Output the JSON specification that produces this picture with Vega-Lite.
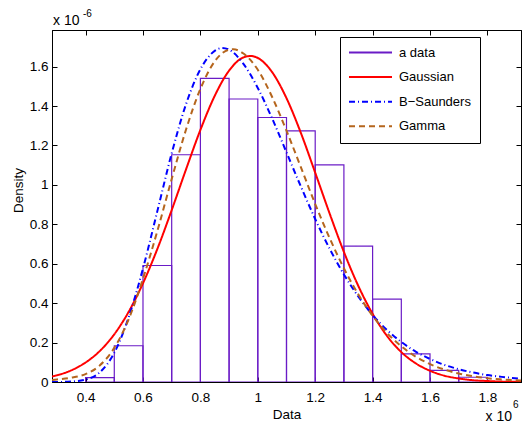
{
  "$schema": "https://vega.github.io/schema/vega-lite/v6.json",
  "width": 469,
  "height": 352,
  "autosize": {"type": "none"},
  "padding": {"left": 52, "top": 30, "right": 2, "bottom": 43},
  "background": "white",
  "config": {
    "font": "Liberation Sans",
    "view": {"stroke": "black", "strokeWidth": 1},
    "axis": {
      "domainColor": "black", "tickColor": "black", "labelColor": "black", "titleColor": "black",
      "grid": false, "tickSize": -5, "labelFontSize": 13.5, "titleFontSize": 13.5,
      "titleFontWeight": "normal", "labelFont": "Liberation Sans", "titleFont": "Liberation Sans",
      "labelFlush": false, "labelOverlap": false
    },
    "legend": {
      "orient": "none", "legendX": 288, "legendY": 7,
      "strokeColor": "black", "fillColor": "white", "padding": 9, "cornerRadius": 0,
      "symbolType": "M-4.3,0H4.3", "symbolSize": 100, "symbolStrokeWidth": 2,
      "symbolOffset": 15, "labelOffset": 22, "rowPadding": 10.6,
      "labelFont": "Liberation Sans", "labelFontSize": 13, "labelColor": "black"
    }
  },
  "datasets": {
    "hist": [
      {"bin_start": 0.4, "bin_end": 0.5, "density": 0.022, "series": "a data"},
      {"bin_start": 0.5, "bin_end": 0.6, "density": 0.184, "series": "a data"},
      {"bin_start": 0.6, "bin_end": 0.7, "density": 0.591, "series": "a data"},
      {"bin_start": 0.7, "bin_end": 0.8, "density": 1.153, "series": "a data"},
      {"bin_start": 0.8, "bin_end": 0.9, "density": 1.541, "series": "a data"},
      {"bin_start": 0.9, "bin_end": 1.0, "density": 1.436, "series": "a data"},
      {"bin_start": 1.0, "bin_end": 1.1, "density": 1.342, "series": "a data"},
      {"bin_start": 1.1, "bin_end": 1.2, "density": 1.274, "series": "a data"},
      {"bin_start": 1.2, "bin_end": 1.3, "density": 1.102, "series": "a data"},
      {"bin_start": 1.3, "bin_end": 1.4, "density": 0.689, "series": "a data"},
      {"bin_start": 1.4, "bin_end": 1.5, "density": 0.42, "series": "a data"},
      {"bin_start": 1.5, "bin_end": 1.6, "density": 0.143, "series": "a data"},
      {"bin_start": 1.6, "bin_end": 1.7, "density": 0.059, "series": "a data"},
      {"bin_start": 1.7, "bin_end": 1.8, "density": 0.024, "series": "a data"}
    ],
    "fits": [
      {"x": 0.283, "density": 0.028, "series": "Gaussian"},
      {"x": 0.30, "density": 0.034, "series": "Gaussian"},
      {"x": 0.35, "density": 0.059, "series": "Gaussian"},
      {"x": 0.40, "density": 0.099, "series": "Gaussian"},
      {"x": 0.45, "density": 0.158, "series": "Gaussian"},
      {"x": 0.50, "density": 0.242, "series": "Gaussian"},
      {"x": 0.55, "density": 0.356, "series": "Gaussian"},
      {"x": 0.60, "density": 0.501, "series": "Gaussian"},
      {"x": 0.65, "density": 0.675, "series": "Gaussian"},
      {"x": 0.70, "density": 0.872, "series": "Gaussian"},
      {"x": 0.75, "density": 1.079, "series": "Gaussian"},
      {"x": 0.80, "density": 1.279, "series": "Gaussian"},
      {"x": 0.85, "density": 1.452, "series": "Gaussian"},
      {"x": 0.90, "density": 1.580, "series": "Gaussian"},
      {"x": 0.95, "density": 1.647, "series": "Gaussian"},
      {"x": 0.975, "density": 1.654, "series": "Gaussian"},
      {"x": 1.00, "density": 1.644, "series": "Gaussian"},
      {"x": 1.05, "density": 1.572, "series": "Gaussian"},
      {"x": 1.10, "density": 1.440, "series": "Gaussian"},
      {"x": 1.15, "density": 1.264, "series": "Gaussian"},
      {"x": 1.20, "density": 1.062, "series": "Gaussian"},
      {"x": 1.25, "density": 0.856, "series": "Gaussian"},
      {"x": 1.30, "density": 0.660, "series": "Gaussian"},
      {"x": 1.35, "density": 0.488, "series": "Gaussian"},
      {"x": 1.40, "density": 0.346, "series": "Gaussian"},
      {"x": 1.45, "density": 0.234, "series": "Gaussian"},
      {"x": 1.50, "density": 0.152, "series": "Gaussian"},
      {"x": 1.55, "density": 0.095, "series": "Gaussian"},
      {"x": 1.60, "density": 0.057, "series": "Gaussian"},
      {"x": 1.65, "density": 0.032, "series": "Gaussian"},
      {"x": 1.70, "density": 0.018, "series": "Gaussian"},
      {"x": 1.75, "density": 0.009, "series": "Gaussian"},
      {"x": 1.80, "density": 0.005, "series": "Gaussian"},
      {"x": 1.85, "density": 0.002, "series": "Gaussian"},
      {"x": 1.917, "density": 0.001, "series": "Gaussian"},
      {"x": 0.283, "density": 0.0, "series": "B−Saunders"},
      {"x": 0.30, "density": 0.0, "series": "B−Saunders"},
      {"x": 0.35, "density": 0.002, "series": "B−Saunders"},
      {"x": 0.40, "density": 0.012, "series": "B−Saunders"},
      {"x": 0.45, "density": 0.05, "series": "B−Saunders"},
      {"x": 0.50, "density": 0.148, "series": "B−Saunders"},
      {"x": 0.55, "density": 0.328, "series": "B−Saunders"},
      {"x": 0.60, "density": 0.576, "series": "B−Saunders"},
      {"x": 0.65, "density": 0.867, "series": "B−Saunders"},
      {"x": 0.70, "density": 1.160, "series": "B−Saunders"},
      {"x": 0.75, "density": 1.410, "series": "B−Saunders"},
      {"x": 0.80, "density": 1.587, "series": "B−Saunders"},
      {"x": 0.85, "density": 1.680, "series": "B−Saunders"},
      {"x": 0.875, "density": 1.695, "series": "B−Saunders"},
      {"x": 0.90, "density": 1.686, "series": "B−Saunders"},
      {"x": 0.95, "density": 1.614, "series": "B−Saunders"},
      {"x": 1.00, "density": 1.492, "series": "B−Saunders"},
      {"x": 1.05, "density": 1.337, "series": "B−Saunders"},
      {"x": 1.10, "density": 1.165, "series": "B−Saunders"},
      {"x": 1.15, "density": 0.992, "series": "B−Saunders"},
      {"x": 1.20, "density": 0.827, "series": "B−Saunders"},
      {"x": 1.25, "density": 0.677, "series": "B−Saunders"},
      {"x": 1.30, "density": 0.546, "series": "B−Saunders"},
      {"x": 1.35, "density": 0.434, "series": "B−Saunders"},
      {"x": 1.40, "density": 0.340, "series": "B−Saunders"},
      {"x": 1.45, "density": 0.264, "series": "B−Saunders"},
      {"x": 1.50, "density": 0.203, "series": "B−Saunders"},
      {"x": 1.55, "density": 0.154, "series": "B−Saunders"},
      {"x": 1.60, "density": 0.117, "series": "B−Saunders"},
      {"x": 1.65, "density": 0.087, "series": "B−Saunders"},
      {"x": 1.70, "density": 0.065, "series": "B−Saunders"},
      {"x": 1.75, "density": 0.048, "series": "B−Saunders"},
      {"x": 1.80, "density": 0.035, "series": "B−Saunders"},
      {"x": 1.85, "density": 0.026, "series": "B−Saunders"},
      {"x": 1.917, "density": 0.017, "series": "B−Saunders"},
      {"x": 0.283, "density": 0.010, "series": "Gamma"},
      {"x": 0.30, "density": 0.013, "series": "Gamma"},
      {"x": 0.35, "density": 0.022, "series": "Gamma"},
      {"x": 0.40, "density": 0.040, "series": "Gamma"},
      {"x": 0.45, "density": 0.085, "series": "Gamma"},
      {"x": 0.50, "density": 0.173, "series": "Gamma"},
      {"x": 0.55, "density": 0.318, "series": "Gamma"},
      {"x": 0.60, "density": 0.524, "series": "Gamma"},
      {"x": 0.65, "density": 0.766, "series": "Gamma"},
      {"x": 0.70, "density": 1.030, "series": "Gamma"},
      {"x": 0.75, "density": 1.281, "series": "Gamma"},
      {"x": 0.80, "density": 1.487, "series": "Gamma"},
      {"x": 0.85, "density": 1.627, "series": "Gamma"},
      {"x": 0.90, "density": 1.686, "series": "Gamma"},
      {"x": 0.915, "density": 1.688, "series": "Gamma"},
      {"x": 0.95, "density": 1.667, "series": "Gamma"},
      {"x": 1.00, "density": 1.584, "series": "Gamma"},
      {"x": 1.05, "density": 1.446, "series": "Gamma"},
      {"x": 1.10, "density": 1.275, "series": "Gamma"},
      {"x": 1.15, "density": 1.090, "series": "Gamma"},
      {"x": 1.20, "density": 0.903, "series": "Gamma"},
      {"x": 1.25, "density": 0.731, "series": "Gamma"},
      {"x": 1.30, "density": 0.577, "series": "Gamma"},
      {"x": 1.35, "density": 0.445, "series": "Gamma"},
      {"x": 1.40, "density": 0.336, "series": "Gamma"},
      {"x": 1.45, "density": 0.249, "series": "Gamma"},
      {"x": 1.50, "density": 0.181, "series": "Gamma"},
      {"x": 1.55, "density": 0.129, "series": "Gamma"},
      {"x": 1.60, "density": 0.091, "series": "Gamma"},
      {"x": 1.65, "density": 0.063, "series": "Gamma"},
      {"x": 1.70, "density": 0.043, "series": "Gamma"},
      {"x": 1.75, "density": 0.029, "series": "Gamma"},
      {"x": 1.80, "density": 0.019, "series": "Gamma"},
      {"x": 1.85, "density": 0.013, "series": "Gamma"},
      {"x": 1.917, "density": 0.007, "series": "Gamma"}
    ],
    "notes": [
      {"label": "x 10"}
    ]
  },
  "layer": [
    {
      "data": {"name": "hist"},
      "mark": {"type": "bar", "filled": false, "strokeWidth": 1.2, "clip": true},
      "encoding": {
        "x": {"field": "bin_start", "type": "quantitative",
              "scale": {"domain": [0.283, 1.917], "nice": false, "zero": false},
              "axis": {"orient": "bottom", "values": [0.4, 0.6, 0.8, 1.0, 1.2, 1.4, 1.6, 1.8], "format": "~g",
                       "title": "Data", "labelPadding": 13, "titlePadding": 4}},
        "x2": {"field": "bin_end"},
        "y": {"field": "density", "type": "quantitative",
              "scale": {"domain": [0, 1.786], "nice": false, "zero": false},
              "axis": {"orient": "left", "values": [0, 0.2, 0.4, 0.6, 0.8, 1.0, 1.2, 1.4, 1.6], "format": "~g",
                       "title": "Density", "labelPadding": 9, "titlePadding": 4, "titleX": -27, "titleY": 160}},
        "y2": {"datum": 0},
        "color": {"field": "series", "type": "nominal",
                  "scale": {"domain": ["a data", "Gaussian", "B−Saunders", "Gamma"],
                            "range": ["#6a1bc6", "#ff0000", "#0000ff", "#b5651d"]},
                  "legend": {"title": null, "labelExpr": "datum.label + '               '"}},
        "strokeDash": {"field": "series", "type": "nominal",
                       "scale": {"domain": ["a data", "Gaussian", "B−Saunders", "Gamma"],
                                 "range": [[1, 0], [1, 0], [6, 3, 1, 3], [6, 4]]},
                       "legend": {"title": null, "labelExpr": "datum.label + '               '"}}
      }
    },
    {
      "data": {"name": "fits"},
      "mark": {"type": "line", "strokeWidth": 2, "interpolate": "monotone", "clip": true},
      "encoding": {
        "x": {"field": "x", "type": "quantitative", "scale": {"domain": [0.283, 1.917], "nice": false, "zero": false}, "axis": null},
        "y": {"field": "density", "type": "quantitative", "scale": {"domain": [0, 1.786], "nice": false, "zero": false}, "axis": null},
        "color": {"field": "series", "type": "nominal",
                  "scale": {"domain": ["a data", "Gaussian", "B−Saunders", "Gamma"],
                            "range": ["#6a1bc6", "#ff0000", "#0000ff", "#b5651d"]},
                  "legend": {"title": null, "labelExpr": "datum.label + '               '"}},
        "strokeDash": {"field": "series", "type": "nominal",
                       "scale": {"domain": ["a data", "Gaussian", "B−Saunders", "Gamma"],
                                 "range": [[1, 0], [1, 0], [6, 3, 1, 3], [6, 4]]},
                       "legend": {"title": null, "labelExpr": "datum.label + '               '"}}
      }
    },
    {
      "data": {"name": "fits"},
      "mark": {"type": "point", "opacity": 0},
      "encoding": {
        "x": {"field": "x", "type": "quantitative", "scale": {"domain": [0.283, 1.917], "nice": false, "zero": false},
              "axis": {"orient": "top", "values": [0.4, 0.6, 0.8, 1.0, 1.2, 1.4, 1.6, 1.8], "labels": false, "title": null}},
        "y": {"field": "density", "type": "quantitative", "scale": {"domain": [0, 1.786], "nice": false, "zero": false},
              "axis": {"orient": "right", "values": [0, 0.2, 0.4, 0.6, 0.8, 1.0, 1.2, 1.4, 1.6], "labels": false, "title": null}}
      }
    },
    {
      "data": {"name": "notes"},
      "mark": {"type": "text", "align": "left", "baseline": "alphabetic", "fontSize": 14, "dx": 1, "dy": -5, "color": "black"},
      "encoding": {
        "x": {"datum": 0.283, "type": "quantitative", "axis": null},
        "y": {"datum": 1.786, "type": "quantitative", "axis": null},
        "text": {"field": "label"}
      }
    },
    {
      "data": {"name": "notes"},
      "mark": {"type": "text", "align": "left", "baseline": "alphabetic", "fontSize": 10, "dx": 31, "dy": -13, "color": "black"},
      "encoding": {
        "x": {"datum": 0.283, "type": "quantitative", "axis": null},
        "y": {"datum": 1.786, "type": "quantitative", "axis": null},
        "text": {"value": "-6"}
      }
    },
    {
      "data": {"name": "notes"},
      "mark": {"type": "text", "align": "right", "baseline": "alphabetic", "fontSize": 14, "dx": -9, "dy": 39, "color": "black"},
      "encoding": {
        "x": {"datum": 1.917, "type": "quantitative", "axis": null},
        "y": {"datum": 0, "type": "quantitative", "axis": null},
        "text": {"field": "label"}
      }
    },
    {
      "data": {"name": "notes"},
      "mark": {"type": "text", "align": "left", "baseline": "alphabetic", "fontSize": 10, "dx": -8, "dy": 26, "color": "black"},
      "encoding": {
        "x": {"datum": 1.917, "type": "quantitative", "axis": null},
        "y": {"datum": 0, "type": "quantitative", "axis": null},
        "text": {"value": "6"}
      }
    }
  ],
  "resolve": {"axis": {"x": "independent", "y": "independent"}}
}
